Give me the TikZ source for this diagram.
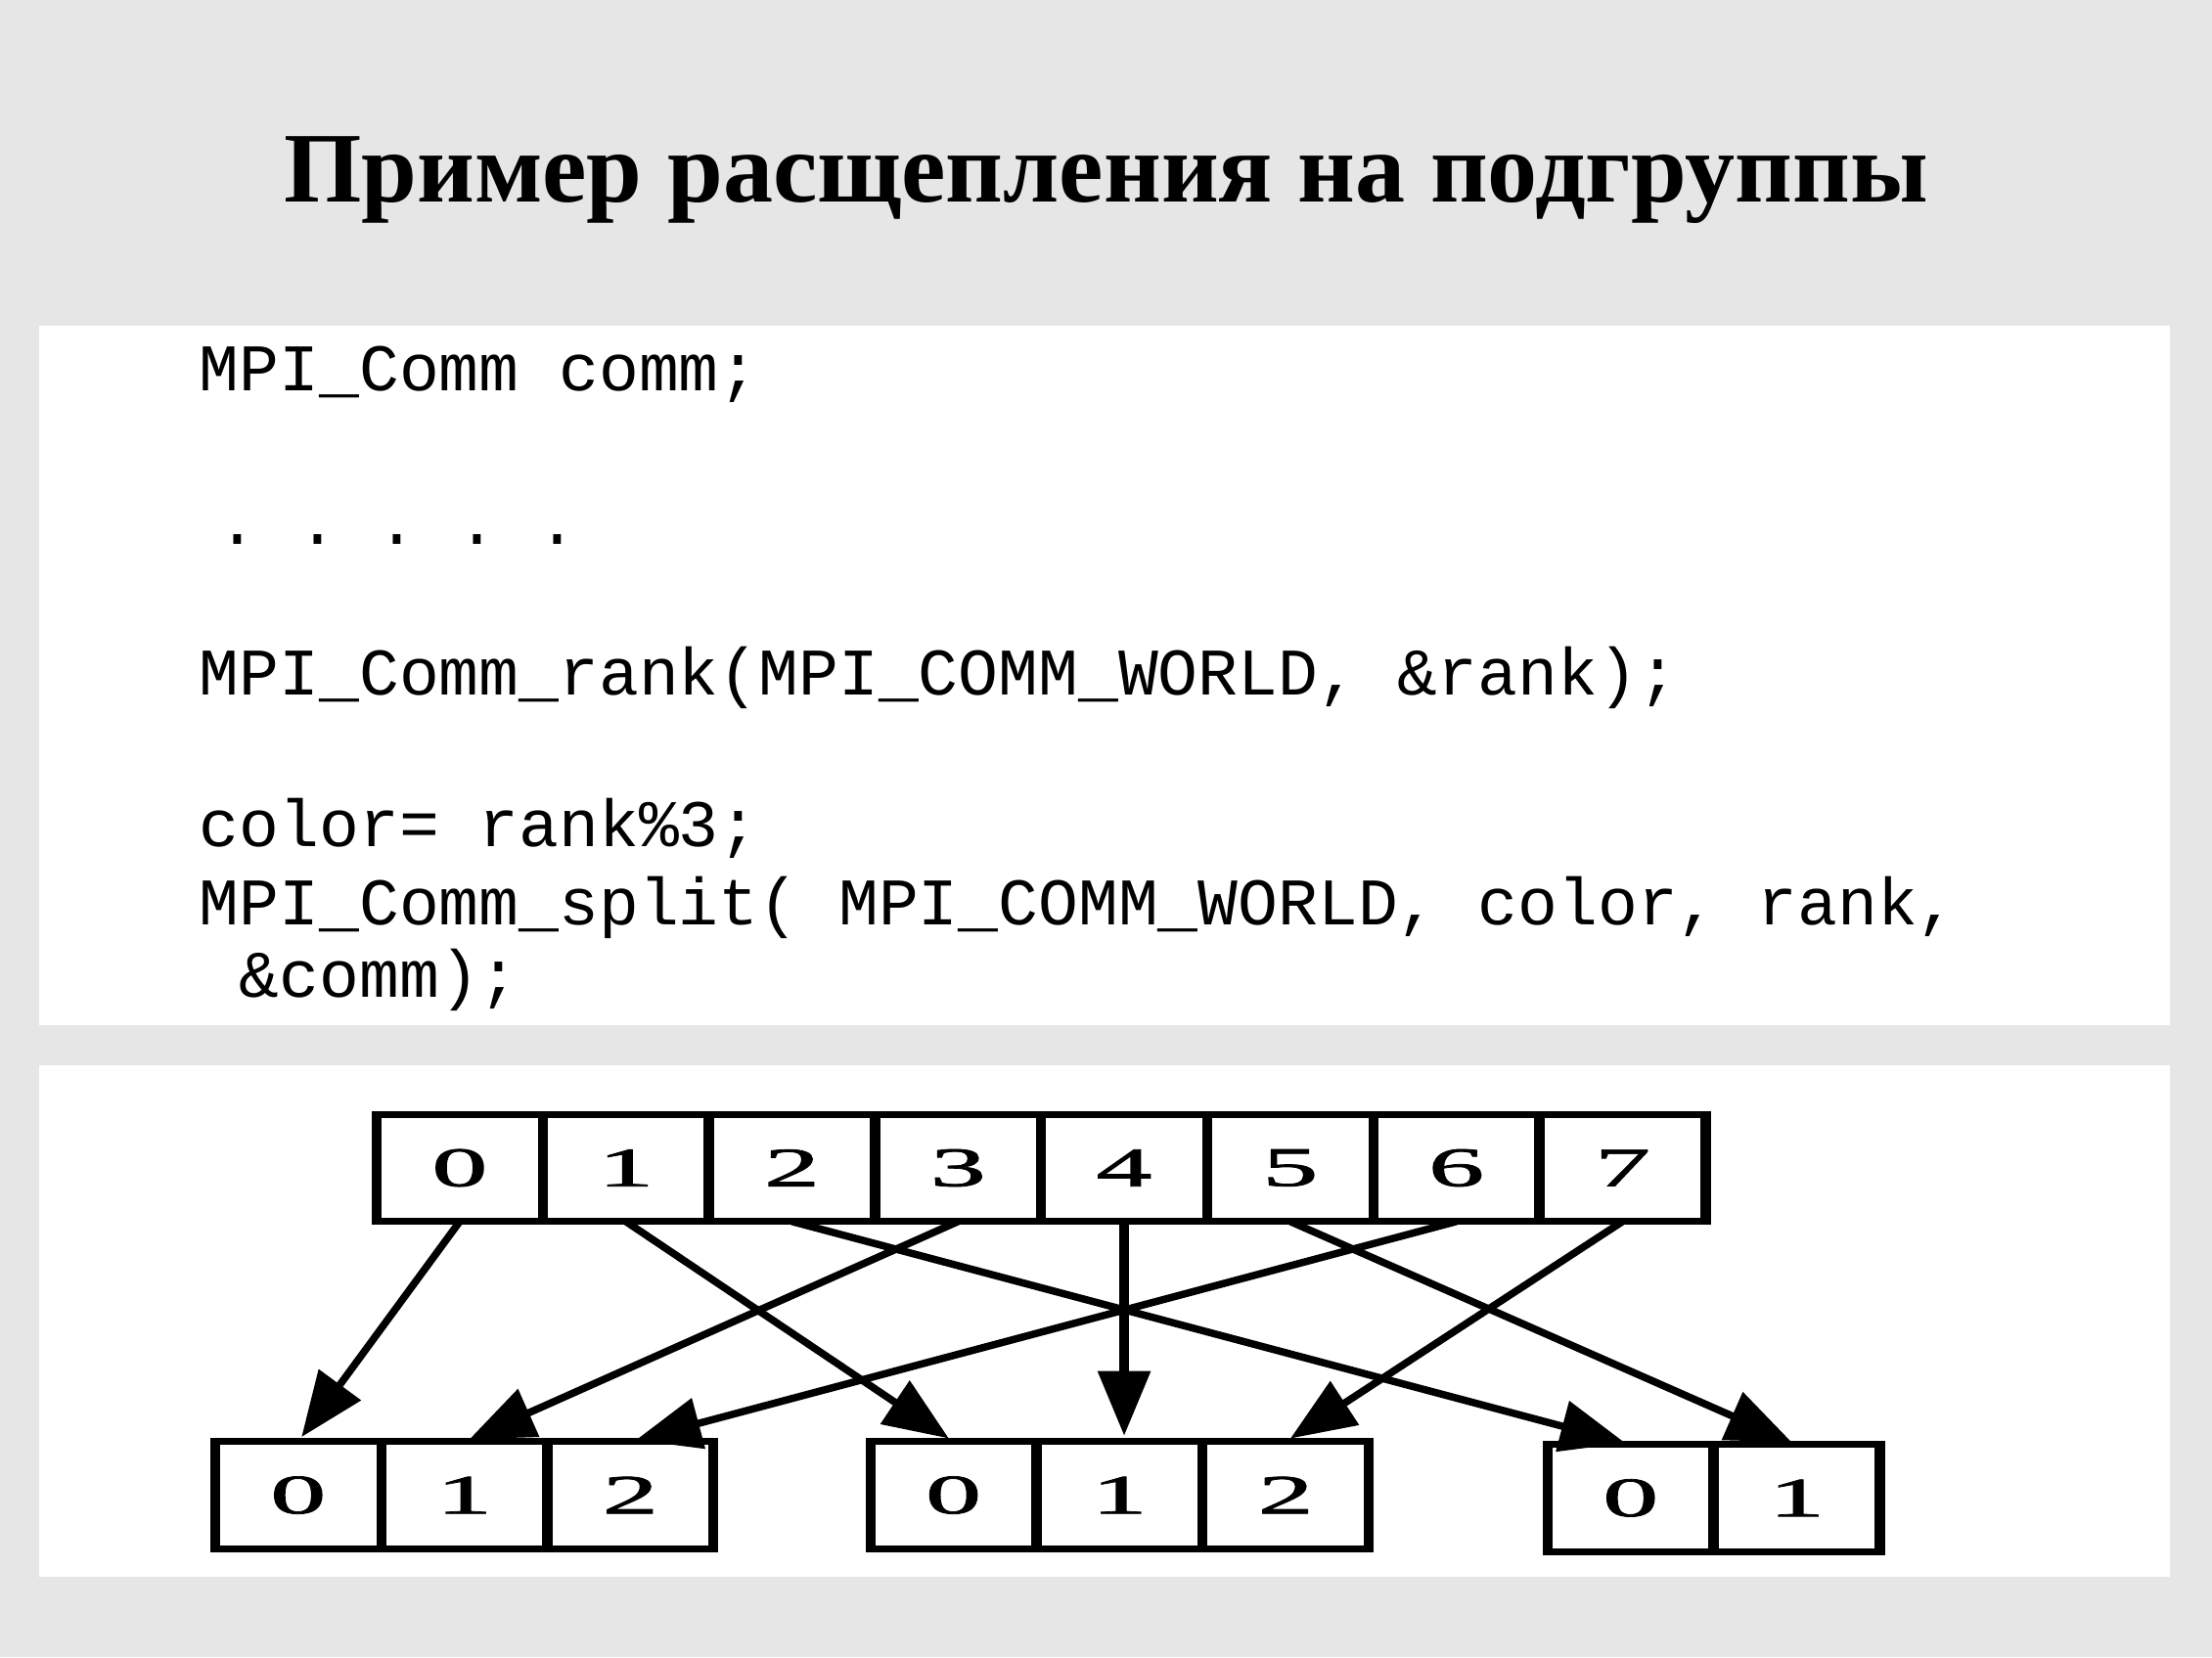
\documentclass[tikz,border=0pt]{standalone}
\usepackage{fontspec}
\usepackage{graphicx}
\setmainfont{Liberation Serif}
\setmonofont{Liberation Mono}
\newfontfamily\digitfont[FakeBold=1.3]{Liberation Serif}
\usetikzlibrary{arrows.meta}
\definecolor{bg}{HTML}{E6E6E6}
\newcommand\digitbox[1]{\scalebox{2}[1]{#1}}
\begin{document}
\frenchspacing
\begin{tikzpicture}[x=0.5pt,y=-0.5pt,
  titletext/.style={font=\fontsize{35.4pt}{40pt}\selectfont\bfseries, anchor=base, inner sep=0pt},
  code/.style={font=\ttfamily\fontsize{23.6pt}{26pt}\selectfont, anchor=base west, inner sep=0pt},
  cell/.style={minimum width=58.875pt, minimum height=38pt, inner sep=0pt, outer sep=0pt,
    font=\digitfont\fontsize{19.7pt}{20pt}\selectfont},
  hline/.style={line width=2.5pt, line cap=rect},
  vline/.style={line width=3.6pt, shorten <=-1.25pt, shorten >=-1.25pt},
  arr/.style={line width=2.6pt, -{Triangle[length=23pt,width=18pt]}, shorten >=2pt}
]
\fill[bg] (0,0) rectangle (1568,1175);
\useasboundingbox (0,0) rectangle (1568,1175);
\fill[white] (28,231) rectangle (1538,727);
\fill[white] (28,755) rectangle (1538,1118);

\node[titletext] (title) at (784,143) {Пример расщепления на подгруппы};

\node[code] (c1) at (141,277) {MPI\_Comm comm;};
\node[code] (c2) at (154,386) {. . . . .};
\node[code] (c3) at (141,493) {MPI\_Comm\_rank(MPI\_COMM\_WORLD, \&rank);};
\node[code] (c4) at (141,600.5) {color= rank\%3;};
\node[code] (c5) at (141,655.5) {MPI\_Comm\_split( MPI\_COMM\_WORLD, color, rank,};
\node[code] (c6) at (169.4,707) {\&comm);};

% top row
\foreach \i in {0,...,7}
  \node[cell] (t\i) at ({267+117.75*(\i+0.5)},828) {\digitbox{\i}};
% bottom groups
\foreach \i in {0,1,2}
  \node[cell] (l\i) at ({152.5+117.75*(\i+0.5)},1060) {\digitbox{\i}};
\foreach \i in {0,1,2}
  \node[cell] (m\i) at ({617+117.75*(\i+0.5)},1060) {\digitbox{\i}};
\foreach \i in {0,1}
  \node[cell] (r\i) at ({1097+117.75*(\i+0.5)},1062) {\digitbox{\i}};

% borders
\draw[hline] (t0.north west) -- (t7.north east) (t0.south west) -- (t7.south east);
\foreach \i in {0,...,7} \draw[vline] (t\i.north west) -- (t\i.south west);
\draw[vline] (t7.north east) -- (t7.south east);

\draw[hline] (l0.north west) -- (l2.north east) (l0.south west) -- (l2.south east);
\foreach \i in {0,1,2} \draw[vline] (l\i.north west) -- (l\i.south west);
\draw[vline] (l2.north east) -- (l2.south east);

\draw[hline] (m0.north west) -- (m2.north east) (m0.south west) -- (m2.south east);
\foreach \i in {0,1,2} \draw[vline] (m\i.north west) -- (m\i.south west);
\draw[vline] (m2.north east) -- (m2.south east);

\draw[hline] (r0.north west) -- (r1.north east) (r0.south west) -- (r1.south east);
\foreach \i in {0,1} \draw[vline] (r\i.north west) -- (r\i.south west);
\draw[vline] (r1.north east) -- (r1.south east);

% arrows
\draw[arr] (t0.south) -- (l0.north);
\draw[arr] (t3.south) -- (l1.north);
\draw[arr] (t6.south) -- (l2.north);
\draw[arr] (t1.south) -- (m0.north);
\draw[arr, line width=3.4pt] (t4.south) -- (t4.south |- m1.north);
\draw[arr] (t7.south) -- (m2.north);
\draw[arr] (t2.south) -- (r0.north);
\draw[arr] (t5.south) -- (r1.north);
\end{tikzpicture}
\end{document}
